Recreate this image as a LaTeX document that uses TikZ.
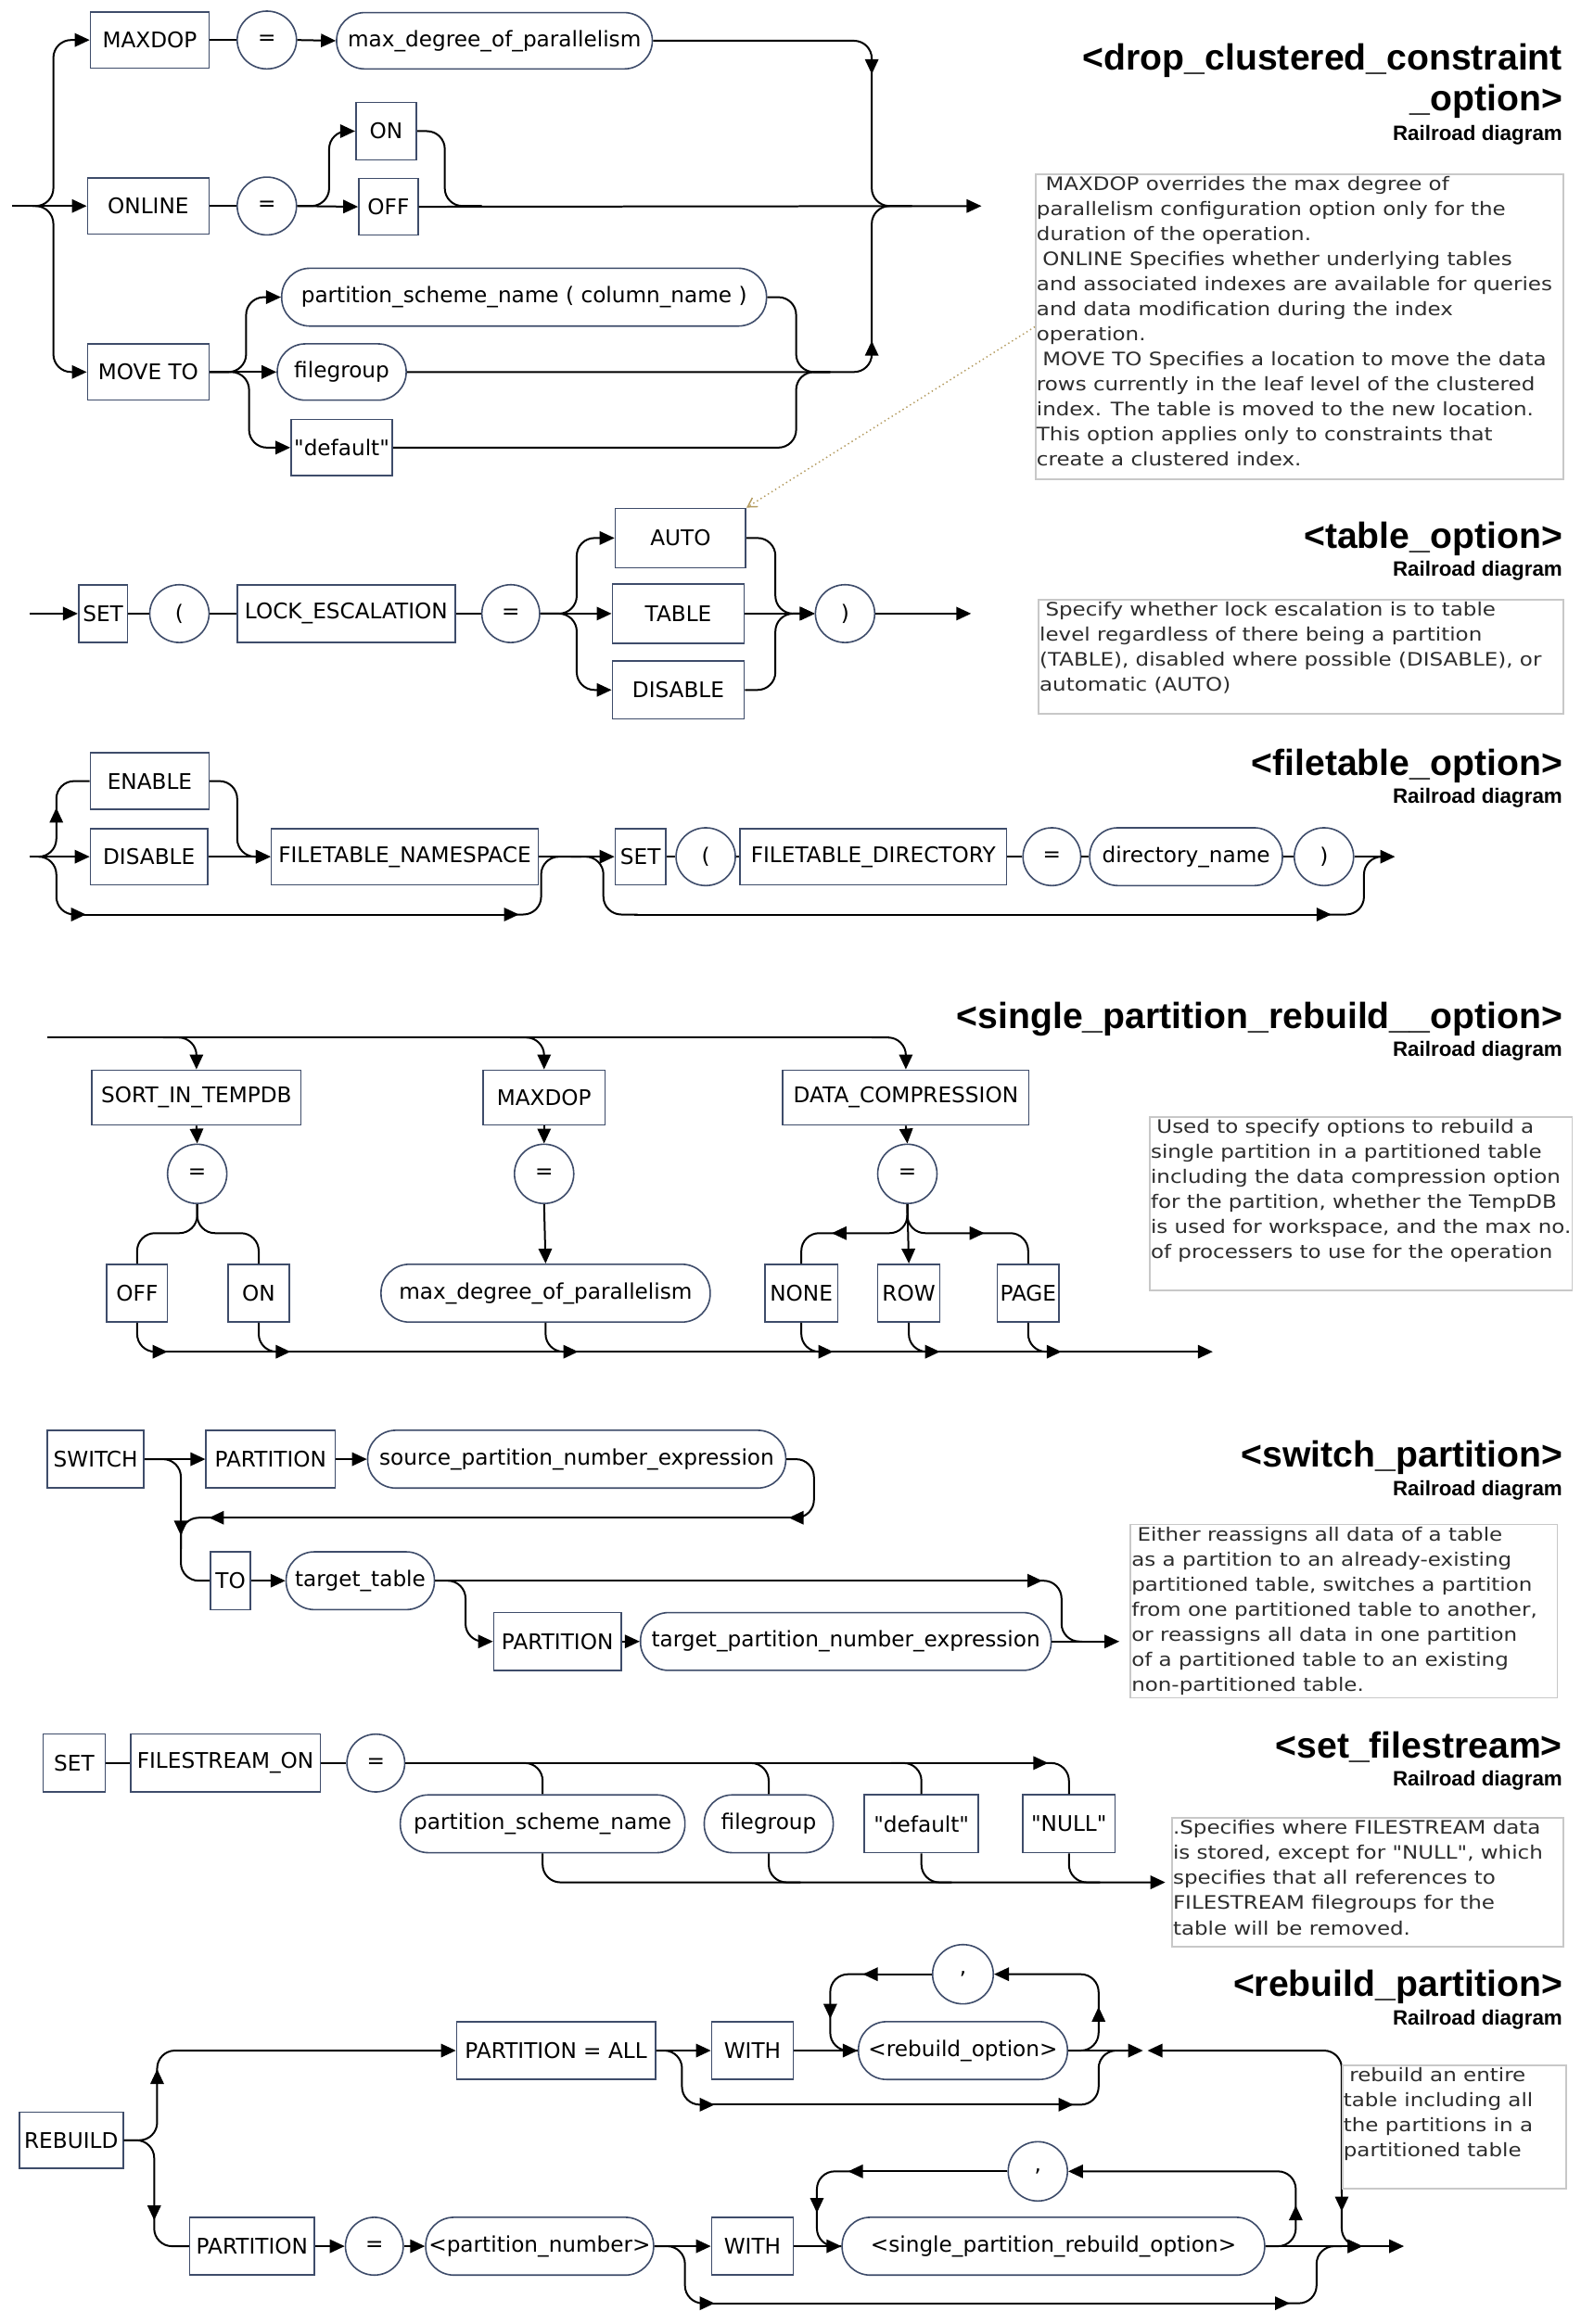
\documentclass[tikz,border=0pt]{standalone}
\usepackage{fontspec}
\setmainfont{DejaVu Sans}
\newfontfamily\boxfam{DejaVu Sans}[Ligatures=ResetAll]
\newfontfamily\lsans{Liberation Sans}
\newfontfamily\notefam{DejaVu Sans}[FakeStretch=1.15,Ligatures=ResetAll]
\usetikzlibrary{arrows.meta,shapes.geometric}
\definecolor{boxc}{RGB}{62,76,106}
\definecolor{notec}{RGB}{200,200,200}
\definecolor{notetx}{RGB}{45,45,45}
\definecolor{tanc}{RGB}{180,155,95}
\newcommand{\myboxfont}{\boxfam\fontsize{14.5pt}{17pt}\selectfont}
\newcommand{\mytitlefont}{\lsans\bfseries\fontsize{24.5pt}{28pt}\selectfont}
\newcommand{\myrailfont}{\lsans\bfseries\fontsize{14pt}{16pt}\selectfont}
\newcommand{\mynotefont}{\notefam\fontsize{12.5pt}{16.9pt}\selectfont}
\tikzset{
 term/.style={draw=boxc, line width=1.0pt, fill=white, rectangle, minimum height=38pt, inner xsep=2pt, inner ysep=0pt, font=\myboxfont, text=black},
 nterm/.style={term, rounded corners=19pt},
 oval/.style={draw=boxc, line width=1.0pt, fill=white, ellipse, minimum width=40pt, minimum height=39pt, inner sep=0pt, font=\myboxfont},
 rline/.style={line width=1.25pt, rounded corners=12pt},
 rarr/.style={rline, -{Triangle[length=10pt,width=9pt]}},
 ttl/.style={anchor=base east, inner sep=0pt, font=\mytitlefont},
 rrd/.style={anchor=base east, inner sep=0pt, font=\myrailfont},
 notebox/.style={draw=notec, line width=1pt, rectangle, anchor=north west, inner sep=0pt},
 notetxt/.style={anchor=north west, align=left, inner sep=0pt, font=\mynotefont, text=notetx},
}
\begin{document}
\begin{tikzpicture}[x=1pt,y=-1pt]
\fill[white] (0,0) rectangle (1066,1568);
\useasboundingbox (0,0) rectangle (1066,1568);

% ================= Section 1 =================
\node[term, minimum width=80pt] (MAXDOP) at (101,27) {MAXDOP};
\node[oval] (eq1a) at (180,27) {=};
\node[nterm, minimum width=213pt] (mdp1) at (333.5,27.5) {max\_degree\_of\_parallelism};
\node[term, minimum width=82pt] (ONLINE) at (100,139) {ONLINE};
\node[oval] (eq1b) at (180,139) {=};
\node[term, minimum width=41pt, minimum height=39pt] (ON1) at (260.5,88.5) {ON};
\node[term, minimum width=40pt] (OFF1) at (262,139.5) {OFF};
\node[term, minimum width=82pt] (MOVETO) at (100,251) {MOVE TO};
\node[nterm, minimum width=327pt, minimum height=39pt] (psn1) at (353.5,200.5) {partition\_scheme\_name ( column\_name )};
\node[nterm, minimum width=87pt] (fg1) at (230.5,251) {filegroup};
\node[term, minimum width=67pt] (def1) at (230.5,302) {"default"};
\coordinate (s1in) at (8,139);
\coordinate (s1j) at (22,139);
\coordinate (s1out) at (662,139);
\draw[rarr] (s1in) -- (ONLINE.west);
\draw[rarr] (s1j) -| (36,27) -- (MAXDOP.west);
\draw[rarr] (s1j) -| (36,251) -- (MOVETO.west);
\draw[rline] (MAXDOP.east) -- (eq1a.west);
\draw[rarr] (eq1a.east) -- (mdp1.west);
\draw[rarr] (mdp1.east) -| (588,50);
\draw[rline] (588,46) |- (615,139);
\draw[rline] (ONLINE.east) -- (eq1b.west);
\draw[rarr] (eq1b.east) -- (OFF1.west);
\draw[rarr] (eq1b.east) -| (222,88.5) -- (ON1.west);
\draw[rline] (ON1.east) -| (300,139) -- (325,139);
\draw[rarr] (OFF1.east) -- (s1out);
\draw[rarr] (MOVETO.east) -- (fg1.west);
\draw[rarr] (MOVETO.east) -| (166,200.5) -- (psn1.west);
\draw[rarr] (MOVETO.east) -| (168,302) -- (def1.west);
\draw[rline] (psn1.east) -| (537,251) -- (560,251);
\draw[rline] (def1.east) -| (537,251) -- (560,251);
\draw[rarr] (fg1.east) -| (588,230);
\draw[rline] (588,236) |- (615,139);

\node[ttl] (t1a) at (1054,47) {<drop\_clustered\_constraint};
\node[ttl] (t1b) at (1054,75) {\_option>};
\node[rrd] (t1c) at (1054,95) {Railroad diagram};
\node[notebox, minimum width=356pt, minimum height=206pt] (n1) at (698,117) {};
\node[notetxt] (n1t) at (699,119) {\hspace*{6pt}MAXDOP overrides the max degree of\\
parallelism configuration option only for the\\
duration of the operation.\\
\hspace*{4pt}ONLINE Specifies whether underlying tables\\
and associated indexes are available for queries\\
and data modification during the index\\
operation.\\
\hspace*{4pt}MOVE TO Specifies a location to move the data\\
rows currently in the leaf level of the clustered\\
index. The table is moved to the new location.\\
This option applies only to constraints that\\
create a clustered index.};

% ================= Section 2 =================
\node[term, minimum width=33pt, minimum height=39pt] (SET2) at (69.5,414) {SET};
\node[oval] (lp2) at (121,414) {(};
\node[term, minimum width=147pt, minimum height=39pt] (LOCK) at (233.5,414) {LOCK\_ESCALATION};
\node[oval, minimum width=39pt] (eq2) at (344.5,414) {=};
\node[term, minimum width=88pt, minimum height=40pt] (AUTO) at (459,363) {AUTO};
\node[term, minimum width=89pt, minimum height=40pt] (TABLE) at (457.5,414) {TABLE};
\node[term, minimum width=89pt, minimum height=39pt] (DISABLE2) at (457.5,465.5) {DISABLE};
\node[oval] (rp2) at (570,414) {)};
\coordinate (s2in) at (20,414);
\coordinate (s2out) at (655,414);
\draw[rarr] (s2in) -- (SET2.west);
\draw[rline] (SET2.east) -- (lp2.west);
\draw[rline] (lp2.east) -- (LOCK.west);
\draw[rline] (LOCK.east) -- (eq2.west);
\draw[rarr] (eq2.east) -- (TABLE.west);
\draw[rarr] (eq2.east) -| (389,363) -- (AUTO.west);
\draw[rarr] (eq2.east) -| (389,465.5) -- (DISABLE2.west);
\draw[rarr] (AUTO.east) -| (523,414) -- (rp2.west);
\draw[rarr] (DISABLE2.east) -| (523,414) -- (rp2.west);
\draw[rarr] (TABLE.east) -- (rp2.west);
\draw[rarr] (rp2.east) -- (s2out);
\draw[dotted, draw=tanc, line width=0.9pt, -{Straight Barb[length=6pt,width=7pt]}] (n1.west) -- (AUTO.north east);

\node[ttl] (t2a) at (1054,370) {<table\_option>};
\node[rrd] (t2b) at (1054,389) {Railroad diagram};
\node[notebox, minimum width=354pt, minimum height=77pt] (n2) at (700,404) {};
\node[notetxt] (n2t) at (701,406) {\hspace*{4pt}Specify whether lock escalation is to table\\
level regardless of there being a partition\\
(TABLE), disabled where possible (DISABLE), or\\
automatic (AUTO)};

% ================= Section 3 =================
\node[term, minimum width=80pt] (ENABLE) at (101,527) {ENABLE};
\node[term, minimum width=79pt] (DISABLE3) at (100.5,578) {DISABLE};
\node[term, minimum width=180pt] (FTN) at (273,578) {FILETABLE\_NAMESPACE};
\node[term, minimum width=34pt] (SET3) at (432,578) {SET};
\node[oval] (lp3) at (476,578) {(};
\node[term, minimum width=180pt] (FTD) at (589,578) {FILETABLE\_DIRECTORY};
\node[oval, minimum width=39pt] (eq3) at (709.5,578) {=};
\node[nterm, minimum width=130pt, minimum height=39pt] (dn) at (800,578) {directory\_name};
\node[oval] (rp3) at (893,578) {)};
\coordinate (s3in) at (20,578);
\coordinate (s3j) at (26,578);
\coordinate (s3out) at (941,578);
\draw[rarr] (s3in) -- (DISABLE3.west);
\draw[rarr] (s3j) -| (38,545);
\draw[rline] (38,549) |- (ENABLE.west);
\draw[rarr] (s3j) -| (38,617) -- (58,617);
\draw[rarr] (56,617) -- (350,617);
\draw[rline] (348,617) -| (365,578) -- (392,578);
\draw[rarr] (ENABLE.east) -| (160,578) -- (FTN.west);
\draw[rarr] (DISABLE3.east) -- (FTN.west);
\draw[rarr] (FTN.east) -- (SET3.west);
\draw[rline] (385,578) -| (407,617) -- (430,617);
\draw[rarr] (428,617) -- (898,617);
\draw[rline] (896,617) -| (920,578) -- (930,578);
\draw[rline] (SET3.east) -- (lp3.west);
\draw[rline] (lp3.east) -- (FTD.west);
\draw[rline] (FTD.east) -- (eq3.west);
\draw[rline] (eq3.east) -- (dn.west);
\draw[rline] (dn.east) -- (rp3.west);
\draw[rarr] (rp3.east) -- (s3out);

\node[ttl] (t3a) at (1054,523) {<filetable\_option>};
\node[rrd] (t3b) at (1054,542) {Railroad diagram};

% ================= Section 4 =================
\node[term, minimum width=141pt, minimum height=37pt] (SIT) at (132.5,740.5) {SORT\_IN\_TEMPDB};
\node[term, minimum width=82pt, minimum height=37pt] (MAX4) at (367,740.5) {MAXDOP};
\node[term, minimum width=166pt, minimum height=37pt] (DC) at (611,740.5) {DATA\_COMPRESSION};
\node[oval, minimum height=40pt] (eqA) at (133,792) {=};
\node[oval, minimum height=40pt] (eqB) at (367,792) {=};
\node[oval, minimum height=40pt] (eqC) at (612,792) {=};
\node[term, minimum width=41pt, minimum height=39pt] (OFF4) at (92.5,872.5) {OFF};
\node[term, minimum width=41pt, minimum height=39pt] (ON4) at (174.5,872.5) {ON};
\node[nterm, minimum width=222pt, minimum height=39pt] (mdp4) at (368,872.5) {max\_degree\_of\_parallelism};
\node[term, minimum width=49pt, minimum height=39pt] (NONE) at (540.5,872.5) {NONE};
\node[term, minimum width=42pt, minimum height=39pt] (ROW) at (613,872.5) {ROW};
\node[term, minimum width=41pt, minimum height=39pt] (PAGE) at (693.5,872.5) {PAGE};
\coordinate (s4in) at (32,700);
\coordinate (s4out) at (818,912);
\draw[rline] (s4in) -- (600,700);
\draw[rarr] (110,700) -| (SIT.north);
\draw[rarr] (344,700) -| (MAX4.north);
\draw[rarr] (588,700) -| (DC.north);
\draw[rarr] (SIT.south) -- (eqA.north);
\draw[rarr] (MAX4.south) -- (eqB.north);
\draw[rarr] (DC.south) -- (eqC.north);
\draw[rline] (eqA.south) |- (92.5,832) -- (OFF4.north);
\draw[rline] (eqA.south) |- (174.5,832) -- (ON4.north);
\draw[rarr] (eqB.south) -- (mdp4.north);
\draw[rarr] (eqC.south) -- (ROW.north);
\draw[rarr] (eqC.south) |- (561,832);
\draw[rline] (565,832) -| (NONE.north);
\draw[rarr] (eqC.south) |- (664,832);
\draw[rline] (660,832) -| (PAGE.north);
\draw[rarr] (103,912) -- (s4out);
\draw[rarr] (OFF4.south) |- (113,912);
\draw[rarr] (ON4.south) |- (196,912);
\draw[rarr] (mdp4.south) |- (390,912);
\draw[rarr] (NONE.south) |- (562,912);
\draw[rarr] (ROW.south) |- (634,912);
\draw[rarr] (PAGE.south) |- (716,912);

\node[ttl] (t4a) at (1054,694) {<single\_partition\_rebuild\_\_option>};
\node[rrd] (t4b) at (1054,713) {Railroad diagram};
\node[notebox, minimum width=285pt, minimum height=117pt] (n4) at (775,753) {};
\node[notetxt] (n4t) at (776,755) {\hspace*{4pt}Used to specify options to rebuild a\\
single partition in a partitioned table\\
including the data compression option\\
for the partition, whether the TempDB\\
is used for workspace, and the max no.\\
of processers to use for the operation};

% ================= Section 5 =================
\node[term, minimum width=65pt, minimum height=39pt] (SWITCH) at (64.5,984.5) {SWITCH};
\node[term, minimum width=87pt, minimum height=39pt] (P5a) at (182.5,984.5) {PARTITION};
\node[nterm, minimum width=282pt, minimum height=39pt] (spne) at (389,984.5) {source\_partition\_number\_expression};
\node[term, minimum width=27pt, minimum height=39pt] (TO) at (155.5,1066.5) {TO};
\node[nterm, minimum width=100pt, minimum height=39pt] (tt) at (243,1066.5) {target\_table};
\node[term, minimum width=86pt, minimum height=39pt] (P5b) at (376,1107.5) {PARTITION};
\node[nterm, minimum width=277pt, minimum height=39pt] (tpne) at (570.5,1107.5) {target\_partition\_number\_expression};
\coordinate (s5out) at (755,1107.5);
\draw[rarr] (SWITCH.east) -- (P5a.west);
\draw[rarr] (P5a.east) -- (spne.west);
\draw[rarr] (spne.east) -| (549,1024) -- (532,1024);
\draw[rarr] (534,1024) -- (141,1024);
\draw[rline] (143,1024) -| (122,1045);
\draw[rarr] (SWITCH.east) -| (122,1036);
\draw[rline] (122,1032) |- (TO.west);
\draw[rarr] (TO.east) -- (tt.west);
\draw[rarr] (tt.east) -- (703,1066.5);
\draw[rline] (701,1066.5) -| (716,1107.5) -- (730,1107.5);
\draw[rarr] (tt.east) -| (314,1107.5) -- (P5b.west);
\draw[rarr] (P5b.east) -- (tpne.west);
\draw[rarr] (tpne.east) -- (s5out);

\node[ttl] (t5a) at (1054,990) {<switch\_partition>};
\node[rrd] (t5b) at (1054,1009) {Railroad diagram};
\node[notebox, minimum width=288pt, minimum height=117pt] (n5) at (762,1028) {};
\node[notetxt] (n5t) at (763,1030) {\hspace*{4pt}Either reassigns all data of a table\\
as a partition to an already-existing\\
partitioned table, switches a partition\\
from one partitioned table to another,\\
or reassigns all data in one partition\\
of a partitioned table to an existing\\
non-partitioned table.};

% ================= Section 6 =================
\node[term, minimum width=42pt, minimum height=39pt] (SET6) at (50,1189.5) {SET};
\node[term, minimum width=128pt, minimum height=39pt] (FSON) at (152,1189.5) {FILESTREAM\_ON};
\node[oval, minimum width=39pt] (eq6) at (253.5,1189.5) {=};
\node[nterm, minimum width=192pt, minimum height=39pt] (psn6) at (366,1230.5) {partition\_scheme\_name};
\node[nterm, minimum width=87pt, minimum height=39pt] (fg6) at (518.5,1230.5) {filegroup};
\node[term, minimum width=77pt, minimum height=39pt] (def6) at (621.5,1230.5) {"default"};
\node[term, minimum width=62pt, minimum height=39pt] (NULL6) at (721,1230.5) {"NULL"};
\coordinate (s6out) at (786,1270);
\draw[rline] (SET6.east) -- (FSON.west);
\draw[rline] (FSON.east) -- (eq6.west);
\draw[rarr] (eq6.east) -- (707,1189.5);
\draw[rline] (705,1189.5) -| (NULL6.north);
\draw[rline] (344,1189.5) -| (psn6.north);
\draw[rline] (499,1189.5) -| (fg6.north);
\draw[rline] (601,1189.5) -| (def6.north);
\draw[rarr] (psn6.south) |- (s6out);
\draw[rline] (fg6.south) |- (540,1270);
\draw[rline] (def6.south) |- (642,1270);
\draw[rline] (NULL6.south) |- (742,1270);

\node[ttl] (t6a) at (1054,1186) {<set\_filestream>};
\node[rrd] (t6b) at (1054,1205) {Railroad diagram};
\node[notebox, minimum width=264pt, minimum height=87pt] (n6) at (790,1226) {};
\node[notetxt] (n6t) at (791,1228) {.Specifies where FILESTREAM data\\
is stored, except for "NULL", which\\
specifies that all references to\\
FILESTREAM filegroups for the\\
table will be removed.};

% ================= Section 7 =================
\node[term, minimum width=70pt] (REBUILD) at (48,1444) {REBUILD};
\node[term, minimum width=134pt, minimum height=39pt] (PALL) at (375,1383.5) {PARTITION = ALL};
\node[term, minimum width=55pt, minimum height=39pt] (WITH7a) at (507.5,1383.5) {WITH};
\node[nterm, minimum width=141pt, minimum height=39pt] (ro) at (649.5,1383.5) {<rebuild\_option>};
\node[oval, minimum width=41pt, minimum height=40pt] (comma7a) at (649.5,1332) {,};
\node[term, minimum width=84pt, minimum height=39pt] (PART7) at (170,1515.5) {PARTITION};
\node[oval, minimum width=39pt] (eq7) at (252.5,1515.5) {=};
\node[nterm, minimum width=152pt, minimum height=39pt] (pn) at (364,1515.5) {<partition\_number>};
\node[term, minimum width=55pt, minimum height=39pt] (WITH7b) at (507.5,1515.5) {WITH};
\node[nterm, minimum width=285pt, minimum height=39pt] (spro) at (710.5,1515.5) {<single\_partition\_rebuild\_option>};
\node[oval, minimum height=40pt] (comma7b) at (700,1465) {,};
\coordinate (s7out) at (947,1515.5);
\draw[rarr] (REBUILD.east) -| (106,1396);
\draw[rarr] (106,1400) |- (PALL.west);
\draw[rarr] (REBUILD.east) -| (104,1498);
\draw[rline] (104,1494) |- (PART7.west);
\draw[rarr] (PALL.east) -- (WITH7a.west);
\draw[rarr] (WITH7a.east) -- (ro.west);
\draw[rarr] (ro.east) -| (741,1354);
\draw[rarr] (741,1358) |- (comma7a.east);
\draw[rarr] (comma7a.west) -- (582,1332);
\draw[rarr] (584,1332) -| (560,1362);
\draw[rline] (560,1358) |- (ro.west);
\draw[rarr] (ro.east) -- (771,1383.5);
\draw[rarr] (PALL.east) -| (460,1420) -- (482,1420);
\draw[rarr] (480,1420) -- (724,1420);
\draw[rline] (722,1420) -| (741,1383.5) -- (760,1383.5);
\draw[rarr] (905,1480) |- (774,1383.5);
\draw[rarr] (905,1470) -- (905,1492);
\draw[rarr] (905,1488) |- (919,1515.5);
\draw[rarr] (PART7.east) -- (eq7.west);
\draw[rarr] (eq7.east) -- (pn.west);
\draw[rarr] (pn.east) -- (WITH7b.west);
\draw[rarr] (WITH7b.east) -- (spro.west);
\draw[rarr] (spro.east) -| (874,1488);
\draw[rarr] (874,1492) |- (comma7b.east);
\draw[rarr] (comma7b.west) -- (572,1465);
\draw[rarr] (574,1465) -| (551,1493);
\draw[rline] (551,1489) |- (spro.west);
\draw[rarr] (spro.east) -- (919,1515.5);
\draw[rarr] (917,1515.5) -- (s7out);
\draw[rarr] (pn.east) -| (462,1554) -- (482,1554);
\draw[rarr] (480,1554) -- (870,1554);
\draw[rline] (868,1554) -| (888,1515.5) -- (905,1515.5);

\node[ttl] (t7a) at (1054,1347) {<rebuild\_partition>};
\node[rrd] (t7b) at (1054,1366) {Railroad diagram};
\node[notebox, minimum width=151pt, minimum height=83pt] (n7) at (905,1393) {};
\node[notetxt] (n7t) at (906,1395) {\hspace*{4pt}rebuild an entire\\
table including all\\
the partitions in a\\
partitioned table};
\end{tikzpicture}
\end{document}
